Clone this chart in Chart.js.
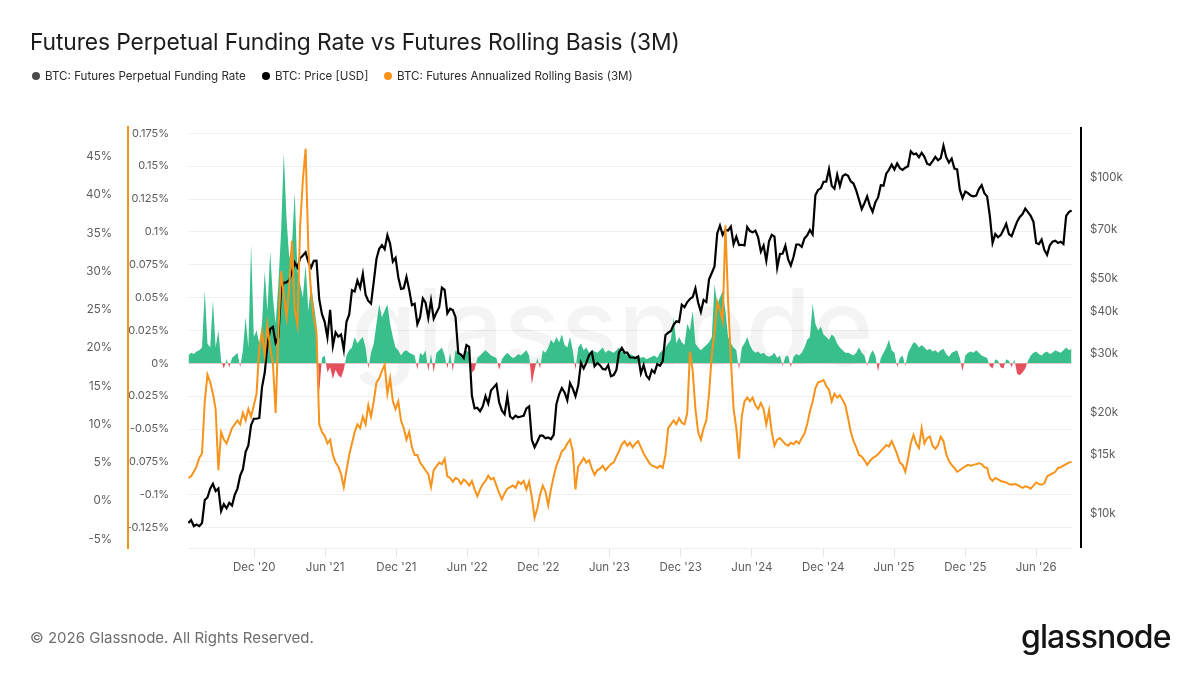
<!DOCTYPE html>
<html>
<head>
<meta charset="utf-8">
<script src="https://cdn.jsdelivr.net/npm/chart.js@4.4.1/dist/chart.umd.min.js"></script>
<style>
  html, body { margin:0; padding:0; background:#fff; }
  body { width:1200px; height:675px; position:relative; overflow:hidden; font-family: Inter, "Noto Sans", sans-serif; }
  #wrap { position:absolute; left:0; top:0; width:1200px; height:675px; }
  #title { position:absolute; left:30px; top:28px; font-size:22.8px; line-height:28px; color:#1c1c1c; letter-spacing:-0.1px; }
  .lg { position:absolute; top:69px; font-size:11.6px; line-height:14px; color:#2b2b2b; display:flex; align-items:center; white-space:nowrap; }
  .dot { width:8px; height:8px; border-radius:50%; margin-right:5px; display:inline-block; }
  #copy { position:absolute; left:30px; top:629px; font-size:15px; line-height:18px; color:#6d6d6d; }
  #logo { position:absolute; left:1021px; top:618px; font-size:32px; line-height:38px; color:#141414; font-weight:500; letter-spacing:-0.9px; }
</style>
</head>
<body>
<div id="wrap"><canvas id="chart"></canvas></div>
<div id="title">Futures Perpetual Funding Rate vs Futures Rolling Basis (3M)</div>
<div class="lg" style="left:32px"><span class="dot" style="background:#4a4a4a"></span>BTC: Futures Perpetual Funding Rate</div>
<div class="lg" style="left:262px"><span class="dot" style="background:#000"></span>BTC: Price [USD]</div>
<div class="lg" style="left:384px"><span class="dot" style="background:#f7931a"></span>BTC: Futures Annualized Rolling Basis (3M)</div>
<div id="copy">© 2026 Glassnode. All Rights Reserved.</div>
<div id="logo">glassnode</div>

<script>
// weekly samples, first one on this date
const weekStart = "2020-06-15";

// BTC price, thousands of USD
const priceK = [
  9.4, 9.6, 9.2, 9.3, 9.2, 9.4, 11.0, 11.2, 11.9, 12.3, 11.7, 11.9, 10.2, 10.7, 10.4, 10.8, 10.6, 11.4, 11.9, 13.0,
  13.6, 15.3, 16.0, 18.4, 19.2, 19.2, 19.3, 23.8, 26.3,
  31.9, 35.5, 36.0, 32.3, 33.5, 46.4, 48.7, 48.9, 49.6, 52.4, 56.0, 54.1, 57.6, 58.7, 60.0, 56.2, 54.0, 56.6, 56.7, 43.5,
  39.3, 37.3, 33.5, 40.5, 31.6, 34.7, 33.7, 34.2, 30.8, 37.3, 39.2, 46.3, 45.9, 49.5, 47.1, 51.8, 44.9, 43.0, 42.2, 49.1,
  57.4, 61.5, 63.0, 61.3, 67.5, 63.6, 56.3, 57.8, 50.6, 46.7, 46.9, 50.7,
  46.4, 41.8, 42.2, 36.7, 38.5, 43.8, 42.5, 38.3, 43.2, 38.1, 39.7, 41.2, 47.1, 46.4, 39.5, 40.8, 40.4, 38.5, 30.1, 29.8,
  29.1, 31.8, 31.4, 22.5, 20.6, 20.7, 20.2, 20.9, 22.4, 21.3, 23.3, 23.8, 24.3, 21.5, 20.3, 19.8, 22.4, 19.5, 19.2, 19.6,
  19.4, 19.5, 19.6, 20.6, 20.9, 16.6, 15.8, 16.4, 17.1, 17.1, 16.8, 16.9,
  16.7, 17.2, 21.2, 22.7, 23.7, 23.0, 21.8, 24.5, 23.6, 22.4, 24.1, 28.2, 27.1, 28.2, 29.7, 30.3, 27.5, 28.1, 27.7, 27.0,
  26.9, 27.7, 25.7, 25.9, 26.8, 30.3, 31.2, 30.2, 30.2, 29.2, 29.2, 29.1, 29.4, 26.2, 27.7, 25.8, 25.2, 26.8, 26.3, 27.9,
  27.6, 28.5, 34.0, 34.6, 35.0, 36.5, 37.4, 37.2, 41.9, 41.2, 42.7, 43.6,
  44.2, 46.9, 42.5, 39.9, 43.3, 42.7, 49.9, 52.1, 54.5, 68.3, 72.1, 67.6, 69.9, 69.7, 71.6, 63.4, 66.8, 63.1, 63.2, 62.9,
  71.4, 69.4, 68.8, 69.6, 66.5, 60.3, 62.9, 56.7, 64.7, 67.6, 66.8, 54.0, 59.3, 59.5, 62.8, 57.3, 54.8, 58.2, 63.3, 63.3,
  62.3, 66.0, 67.4, 69.9, 67.8, 88.7, 92.0, 93.0, 97.3, 97.4, 106.1, 94.7, 92.8,
  102.1, 94.5, 101.1, 102.4, 101.4, 97.5, 96.1, 91.5, 86.1, 80.7, 84.0, 88.0, 82.5, 79.2, 84.5, 87.4, 95.0, 94.7, 102.8, 105.6,
  109.4, 105.8, 110.3, 106.8, 105.5, 107.1, 108.2, 119.8, 117.4, 118.0, 115.0, 118.7, 115.4, 110.1, 109.2, 112.1, 115.3, 112.7, 114.4, 124.5,
  115.1, 111.0, 114.1, 106.5, 105.9, 92.0, 87.0, 91.0, 90.0, 88.5, 88.0, 88.5,
  92.5, 95.0, 90.0, 88.0, 77.0, 64.0, 68.0, 66.5, 67.5, 70.0, 73.0, 68.0, 67.0, 70.5, 74.0, 76.5, 78.0, 81.0, 79.0, 77.0,
  74.0, 64.0, 63.5, 65.5, 61.0, 59.0, 63.0, 64.5, 65.0, 64.0, 64.5, 63.5, 77.0, 79.0, 80.0
];

// annualized rolling basis (3M), percent
const basisPct = [
  3.0, 3.2, 3.8, 4.5, 5.6, 6.2, 13, 16.5, 15.5, 14, 12, 4, 9, 8, 7.5, 8.5, 9.5, 10, 10.5, 10,
  11.5, 10.5, 12, 11, 12.5, 14, 20, 22, 19, 23, 20, 18, 11.5, 22, 30, 27, 24, 28, 34, 25,
  23, 36, 42, 46, 33, 27, 24, 22, 10, 9, 8.5, 7.5, 8, 6, 5, 4.5, 3.5, 1.8, 4, 6,
  7.5, 9, 10, 9.5, 11, 10, 12.5, 11, 13, 15.5, 16, 17, 17.8, 14, 16, 13, 12, 13, 10.5, 9.5,
  8, 9, 7, 6,
  6, 5, 4.5, 4, 3.5, 1.8, 4, 4.5, 5, 4.8, 5.5, 3.2, 3, 2.5, 3, 2.8, 2.2, 2.8, 2.5, 2,
  2.6, 1.5, 0.6, 1.5, 2.2, 2.6, 3.3, 2.8, 3, 2, 1, 0.2, 1, 1.6, 1.8, 2, 1.7, 2.5, 2.2, 2.6,
  1.5, 2.5, 0.5, -2.2, -1, 0.8, 2, 1.2, -0.6, 1.5, 3.2, 4.6, 5.5, 6.5, 6.8, 7.5, 8, 6.5, 1.5, 4.5,
  5, 5.6, 5, 5.3, 4.2, 3.4, 4, 4.2, 4.6, 4, 4.4, 4.8, 5, 5.8, 6.5, 7.4, 7.8, 7.2, 7.6, 7,
  7.5, 7.8, 7, 6.2, 5.6, 5, 4.6, 4.5, 4.3, 4.6, 4.3, 6, 9.5, 10, 10.5, 10, 10.8, 10.2, 10, 11.5,
  19.5, 17, 12, 9, 8, 9.5, 10.5, 14, 19, 22, 26, 25, 23.5, 36, 26, 18.5, 12, 9.5, 5.5, 11,
  13, 13.5, 13, 13.5, 12.5, 12, 12.8, 12, 10, 11.8, 9, 7.2, 8, 8.2, 7.8, 7.4, 7.2, 7.6, 7.4, 7.8,
  7.5, 8.2, 8.8, 10, 11.7, 13, 14.7, 15.5, 15.6, 15.8, 15, 14.5, 13, 14, 13.5, 13.8, 13.2, 12.5, 10.8, 9,
  7.8,
  7, 6, 5.8, 5.3, 4.7, 5.2, 5.6, 5.8, 6.1, 6.5, 6.9, 7.3, 7.1, 7.8, 7, 6.1, 5, 4.7, 3.8, 5.5,
  7.5, 8.6, 7.5, 6.9, 9.5, 7.5, 8.2, 8.4, 7.2, 6.8, 7.3, 8.4, 7.8, 6.1, 5.2, 4.7, 4.3, 3.8, 4, 4.3,
  4.5, 4.7, 4.6, 4.7, 4.8, 4.9, 4.8, 4.4, 4.3, 3, 2.6, 3, 2.8, 2.6, 2.5, 2.4, 2.2, 2.1, 2.2, 2.1,
  1.9, 1.7, 1.9, 1.8, 1.6, 2, 2.4, 2.2, 2.1, 2.3, 3.2, 3.4, 3.6, 3.8, 4.3, 4.4, 4.6, 4.8, 5, 5.1
];

// perpetual funding rate, percent
const fundingPct = [
  0.006, 0.008, 0.007, 0.009, 0.01, 0.012, 0.055, 0.015, 0.012, 0.048, 0.012, 0.025, 0.002, -0.004, 0.003, -0.003, 0.004, 0.006, 0.008, -0.003,
  0.01, 0.035, 0.012, 0.09, 0.02, 0.025, 0.015, 0.03, 0.07, 0.04, 0.085, 0.05, 0.03, 0.06, 0.1, 0.16, 0.11, 0.08, 0.09, 0.13,
  0.07, 0.06, 0.05, 0.075, 0.04, 0.06, 0.045, 0.03, -0.022, 0.004, 0.006, -0.007, -0.003, -0.012, -0.005, -0.009, -0.011, -0.005, 0.006, 0.01,
  0.012, 0.02, 0.015, 0.018, 0.02, 0.012, -0.004, 0.008, 0.015, 0.03, 0.045, 0.035, 0.04, 0.045, 0.03, 0.02, 0.012, 0.01, 0.006, 0.009,
  0.01, 0.008, 0.007, 0.006,
  -0.005, 0.008, 0.006, 0.01, -0.006, 0.007, -0.007, 0.008, 0.01, 0.012, 0.006, -0.004, 0.008, -0.006, 0.01, 0.008, 0.006, 0.005, 0.01, 0.008,
  -0.007, -0.005, 0.004, 0.006, 0.008, 0.01, 0.008, 0.006, 0.005, 0.004, -0.005, 0.003, 0.006, 0.008, 0.006, 0.004, 0.005, 0.007, 0.006, 0.008,
  0.01, 0.006, -0.016, -0.005, 0.004, -0.004, 0.01, 0.008, 0.012, 0.018, 0.015, 0.02, 0.016, 0.022, 0.014, 0.012, 0.02, 0.01, -0.005, 0.012,
  0.015, 0.01, 0.012, 0.008, 0.01, 0.009, 0.008, 0.01, 0.012, 0.008, 0.01, 0.009, 0.008, 0.01, 0.012, 0.009, 0.008, 0.006, 0.007, 0.006,
  0.005, 0.006, 0.004, 0.005, 0.003, 0.004, 0.005, 0.006, 0.004, 0.008, 0.01, 0.012, 0.015, 0.018, 0.035, 0.015, 0.02, 0.016, 0.014, 0.03,
  0.025, 0.04, 0.015, 0.012, 0.01, 0.012, 0.014, 0.016, 0.02, 0.06, 0.045, 0.05, 0.055, 0.04, 0.02, 0.015, 0.012, 0.01, -0.005, 0.012,
  0.015, 0.02, 0.014, 0.01, 0.008, 0.009, 0.007, 0.008, 0.006, 0.005, 0.006, 0.008, 0.004, 0.006, -0.002, 0.005, 0.006, -0.003, 0.005, 0.007,
  0.006, 0.008, 0.012, 0.018, 0.02, 0.045, 0.03, 0.025, 0.028, 0.022, 0.02, 0.018, 0.022, 0.02, 0.015, 0.012, 0.01, 0.008, 0.008, 0.007,
  0.006,
  0.008, 0.012, 0.008, 0.006, -0.002, 0.006, 0.01, 0.006, -0.006, 0.004, 0.008, 0.012, 0.018, 0.01, 0.008, -0.003, 0.004, 0.006, -0.002, 0.008,
  0.012, 0.016, 0.015, 0.012, 0.014, 0.012, 0.01, 0.011, 0.009, 0.01, 0.008, 0.01, 0.011, 0.007, 0.005, 0.008, 0.009, 0.01, 0.004, -0.006,
  0.006, 0.008, 0.009, 0.008, 0.01, 0.008, 0.006, 0.005, 0.004, -0.002, -0.004, 0.003, 0.002, -0.003, -0.004, 0.003, 0.002, -0.003, 0.003, -0.008,
  -0.009, -0.007, -0.004, 0.002, 0.006, 0.008, 0.009, 0.007, 0.006, 0.008, 0.009, 0.007, 0.008, 0.01, 0.009, 0.008, 0.01, 0.012, 0.01, 0.011
];

const xTickDates  = ["2020-12-01","2021-06-01","2021-12-01","2022-06-01","2022-12-01","2023-06-01",
                     "2023-12-01","2024-06-01","2024-12-01","2025-06-01","2025-12-01","2026-06-01"];
const xTickLabels = ["Dec '20","Jun '21","Dec '21","Jun '22","Dec '22","Jun '23",
                     "Dec '23","Jun '24","Dec '24","Jun '25","Dec '25","Jun '26"];
const basisTicks   = [-5, 0, 5, 10, 15, 20, 25, 30, 35, 40, 45];
const fundingTicks = [-0.125, -0.1, -0.075, -0.05, -0.025, 0, 0.025, 0.05, 0.075, 0.1, 0.125, 0.15, 0.175];
const priceTicks   = [10, 15, 20, 30, 40, 50, 70, 100];

const DAY = 86400000;
function weekTs(i){ return Date.parse(weekStart) + i * 7 * DAY; }
function pts(arr){ return arr.map((v, i) => ({ x: weekTs(i), y: v })); }
function fmtPct(v){ return `${Number(v.toFixed(3))}%`; }

const ORANGE = "#f7931a";
const LABEL = "#5c5c5c";

// big faint logo behind the series
const watermark = {
  id: "watermark",
  beforeDatasetsDraw(chart){
    const { ctx, chartArea: a } = chart;
    ctx.save();
    ctx.font = "500 106px Inter";
    ctx.fillStyle = "rgba(0,0,0,0.045)";
    ctx.textAlign = "center";
    ctx.textBaseline = "alphabetic";
    ctx.fillText("glassnode", a.left + (a.right - a.left) * 0.48, a.top + 238);
    ctx.restore();
  }
};

// price axis line sits a little off the plot edge
const priceBorder = {
  id: "priceBorder",
  afterDraw(chart){
    const s = chart.scales.price;
    const { ctx, chartArea: a } = chart;
    ctx.save();
    ctx.strokeStyle = "#000";
    ctx.lineWidth = 2;
    ctx.beginPath();
    ctx.moveTo(s.left + 9, a.top);
    ctx.lineTo(s.left + 9, a.bottom);
    ctx.stroke();
    ctx.restore();
  }
};

Chart.defaults.font.family = "Inter, 'Noto Sans', sans-serif";
Chart.defaults.font.size = 11.5;
Chart.defaults.color = LABEL;

const ctx = document.getElementById("chart").getContext("2d");
new Chart(ctx, {
  type: "line",
  data: {
    datasets: [
      { label: "BTC: Futures Annualized Rolling Basis (3M)", data: pts(basisPct), yAxisID: "basis",
        borderColor: ORANGE, borderWidth: 2, pointRadius: 0, tension: 0, order: 1 },
      { label: "BTC: Price [USD]", data: pts(priceK), yAxisID: "price",
        borderColor: "#000", borderWidth: 2.2, pointRadius: 0, tension: 0, order: 2 },
      { label: "BTC: Futures Perpetual Funding Rate", data: pts(fundingPct), yAxisID: "funding",
        borderColor: "rgba(0,0,0,0)", borderWidth: 0, pointRadius: 0, tension: 0, order: 3,
        fill: { target: "origin", above: "rgba(40,186,130,0.92)", below: "#e6505c" } }
    ]
  },
  options: {
    responsive: true,
    maintainAspectRatio: false,
    animation: false,
    layout: { padding: { left: 60, right: 48, top: 127, bottom: 87 } },
    plugins: { legend: { display: false }, tooltip: { enabled: false } },
    scales: {
      x: {
        type: "linear",
        min: Date.parse("2020-06-14"),
        max: Date.parse("2026-09-01"),
        afterBuildTicks: s => { s.ticks = xTickDates.map(d => ({ value: Date.parse(d) })); },
        afterFit: s => { s.height = 40; },
        ticks: { autoSkip: false, maxRotation: 0, padding: 4, callback: (v, i) => xTickLabels[i] },
        grid: { drawOnChartArea: false, drawTicks: true, tickLength: 9, color: "#e6e6e6" },
        border: { color: "#eeeeee", width: 1 }
      },
      funding: {
        position: "left", weight: 1,
        min: -0.14052, max: 0.17978,
        afterBuildTicks: s => { s.ticks = fundingTicks.map(v => ({ value: v })); },
        afterFit: s => { s.width = 60; },
        ticks: { padding: 19, font: { size: 11 }, callback: v => fmtPct(v) },
        grid: { color: "#efefef", drawTicks: false },
        border: { display: false }
      },
      basis: {
        position: "left", weight: 2,
        min: -6.16, max: 48.86,
        afterBuildTicks: s => { s.ticks = basisTicks.map(v => ({ value: v })); },
        afterFit: s => { s.width = 68; },
        ticks: { padding: 16, callback: v => `${v}%` },
        grid: { drawOnChartArea: false, drawTicks: false },
        border: { display: true, color: ORANGE, width: 2 }
      },
      price: {
        type: "logarithmic", position: "right",
        min: 7.923, max: 141.55,
        afterBuildTicks: s => { s.ticks = priceTicks.map(v => ({ value: v })); },
        afterFit: s => { s.width = 80; },
        ticks: { padding: 18, callback: v => `$${v}k` },
        grid: { drawOnChartArea: false, drawTicks: false },
        border: { display: false }
      }
    }
  },
  plugins: [watermark, priceBorder]
});
</script>
</body>
</html>
